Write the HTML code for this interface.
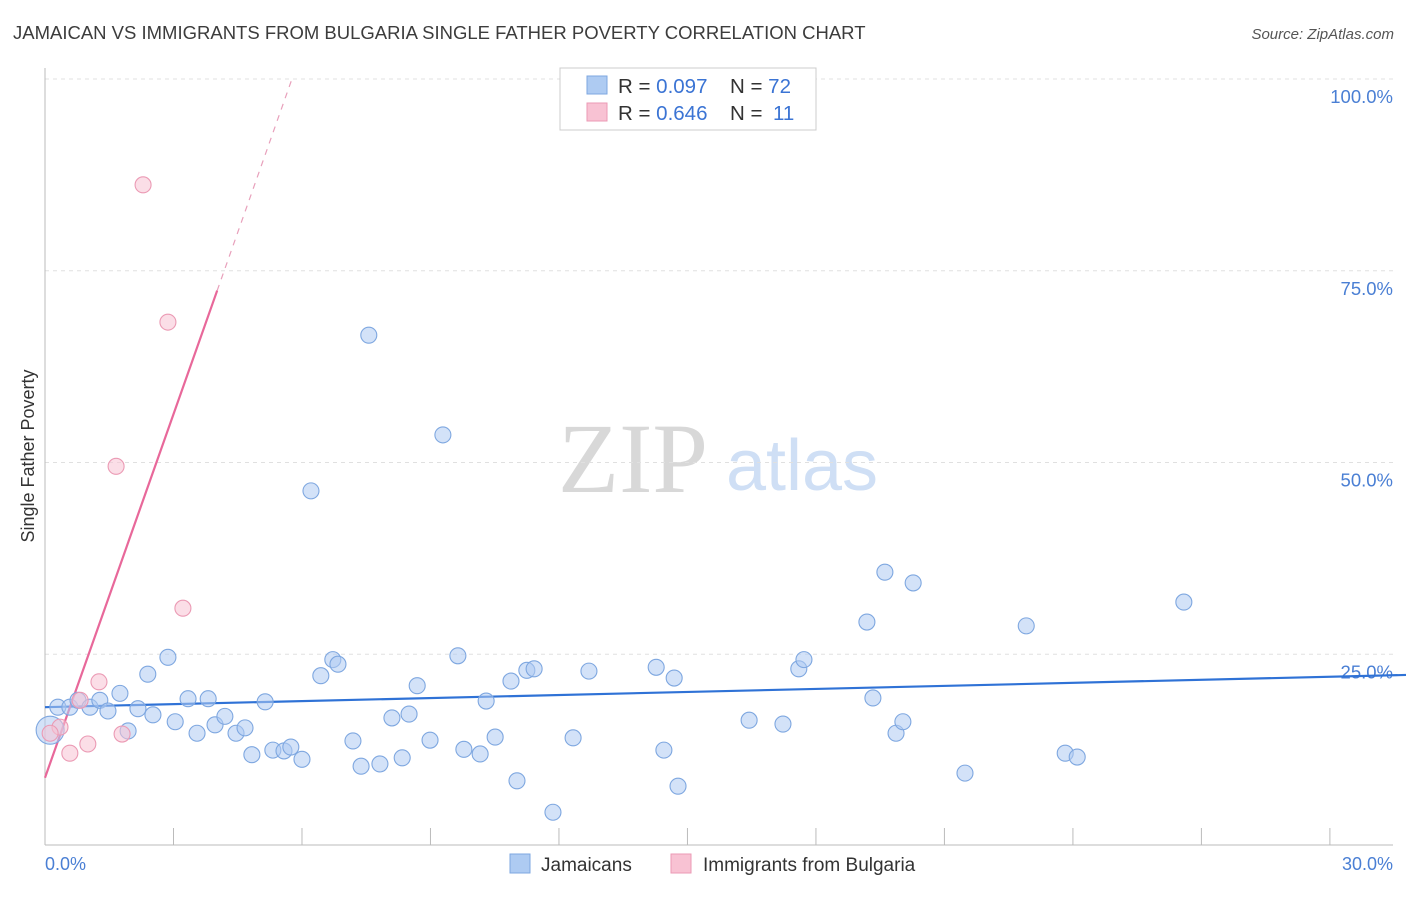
<!DOCTYPE html>
<html><head><meta charset="utf-8"><style>
body{margin:0;background:#fff;font-family:"Liberation Sans",sans-serif;}
svg text{font-family:"Liberation Sans",sans-serif;}
</style></head><body>
<svg id="chart" width="1406" height="892" viewBox="0 0 1406 892" xmlns="http://www.w3.org/2000/svg">
<text x="13" y="39" font-size="18.5" fill="#3c3c3c">JAMAICAN VS IMMIGRANTS FROM BULGARIA SINGLE FATHER POVERTY CORRELATION CHART</text>
<text x="1394" y="39" font-size="15" fill="#555" text-anchor="end" font-style="italic">Source: ZipAtlas.com</text>
<g>
<text x="633" y="492" font-size="100" fill="#d8d8d8" text-anchor="middle" style="font-family:'Liberation Serif',serif">ZIP</text>
<text x="802" y="490" font-size="72" fill="#cfdff5" text-anchor="middle">atlas</text>
</g>
<g id="grid"></g>
<g id="axes"></g>
<g id="lines"></g>
<g id="pts"></g>
<text transform="translate(34,456) rotate(-90)" font-size="18" fill="#333" text-anchor="middle">Single Father Poverty</text>
<text x="45" y="870" font-size="18" fill="#4a7fd4">0.0%</text>
<text x="1393" y="870" font-size="18" fill="#4a7fd4" text-anchor="end">30.0%</text>
<g>
<rect x="560" y="68" width="256" height="62" fill="#fff" stroke="#ccc"/>
<rect x="587" y="76" width="20" height="18" fill="#aecbf2" stroke="#7ea7e0"/>
<rect x="587" y="103" width="20" height="18" fill="#f8c2d3" stroke="#eb9ab4"/>
<text x="618" y="93" font-size="20.5" fill="#333">R = <tspan fill="#3b74d4">0.097</tspan><tspan x="730">N = </tspan><tspan fill="#3b74d4">72</tspan></text>
<text x="618" y="120" font-size="20.5" fill="#333">R = <tspan fill="#3b74d4">0.646</tspan><tspan x="730">N = </tspan><tspan fill="#3b74d4" x="773">11</tspan></text>
</g>
<g>
<rect x="510" y="854" width="20" height="19" fill="#aecbf2" stroke="#7ea7e0"/>
<text x="541" y="871" font-size="19" fill="#333">Jamaicans</text>
<rect x="671" y="854" width="20" height="19" fill="#f8c2d3" stroke="#eb9ab4"/>
<text x="703" y="871" font-size="19" fill="#333">Immigrants from Bulgaria</text>
</g>
</svg>
<script>
const blueX=[0.30,0.58,0.77,1.05,1.28,1.47,1.75,1.94,2.17,2.40,2.52,2.87,3.04,3.34,3.55,3.81,3.97,4.20,4.46,4.67,4.83,5.14,5.32,5.58,5.74,6.00,6.21,6.44,6.72,6.84,7.19,7.38,7.56,7.82,8.10,8.34,8.50,8.69,8.99,9.29,9.64,9.78,10.16,10.30,10.51,10.88,11.02,11.25,11.42,11.86,12.33,12.70,14.27,14.45,14.69,14.78,16.44,17.23,17.60,17.72,19.19,19.33,19.61,19.87,20.03,20.27,21.48,22.91,23.82,24.10,26.59,0.12];
const blueY=[18.1,18.1,19.0,18.1,19.0,17.6,19.9,15.0,17.9,22.4,17.1,24.6,16.2,19.2,14.7,19.2,15.8,16.9,14.7,15.4,11.9,18.8,12.5,12.4,12.9,11.3,46.3,22.2,24.3,23.7,13.7,10.4,66.6,10.7,16.7,11.5,17.2,20.9,13.8,53.6,24.8,12.6,12.0,18.9,14.2,21.5,8.5,22.9,23.1,4.4,14.1,22.8,23.3,12.5,21.9,7.8,16.4,15.9,23.1,24.3,29.2,19.3,35.7,14.7,16.2,34.3,9.5,28.7,12.1,11.6,31.8,15.1];
const pinkX=[2.29,2.87,1.66,3.22,1.26,1.00,0.58,1.80,0.82,0.35,0.12];
const pinkY=[86.2,68.3,49.5,31.0,21.4,13.3,12.1,14.6,19.0,15.5,14.7];
const yTicks=[25,50,75,100];
const yTickLabels=["25.0%","50.0%","75.0%","100.0%"];
const xTicks=[0,3,6,9,12,15,18,21,24,27,30];
const blueLine=[18.1,22.3];
const pinkLine=[8.9,15.8];
const NS="http://www.w3.org/2000/svg";
const sx=v=>45+v*42.83, sy=v=>846-v*7.67;
function mk(t,a,p){const e=document.createElementNS(NS,t);for(const k in a)e.setAttribute(k,a[k]);p.appendChild(e);return e;}
const grid=document.getElementById('grid'),axes=document.getElementById('axes'),lines=document.getElementById('lines'),pts=document.getElementById('pts');
yTicks.forEach((v,i)=>{
const g=mk('line',{x1:45,x2:1393,y1:sy(v),y2:sy(v),stroke:'#e0e0e0','stroke-dasharray':'4,4'},grid);


const t=mk('text',{x:1393,y:sy(v)+24,'font-size':18.5,fill:'#4a7fd4','text-anchor':'end'},axes);
t.textContent=yTickLabels[i];


});
const ax=mk('line',{x1:45,x2:1393,y1:845,y2:845,stroke:'#bbb'},axes);


const ay=mk('line',{x1:45,x2:45,y1:68,y2:845,stroke:'#bbb'},axes);


xTicks.forEach(v=>{
const t=mk('line',{x1:sx(v),x2:sx(v),y1:828,y2:845,stroke:'#bbb'},axes);


});
const bl=mk('line',{x1:sx(0),y1:sy(blueLine[0]),x2:1406,y2:sy(blueLine[1]),stroke:'#2f72d6','stroke-width':2.2},lines);


const xs=4.02, xe=(100-pinkLine[0])/pinkLine[1];
const pl=mk('line',{x1:sx(0),y1:sy(pinkLine[0]),x2:sx(xs),y2:sy(pinkLine[0]+pinkLine[1]*xs),stroke:'#e8689a','stroke-width':2.2},lines);


const pd=mk('line',{x1:sx(xs),y1:sy(pinkLine[0]+pinkLine[1]*xs),x2:sx(xe),y2:sy(100),stroke:'#e8a0bb','stroke-width':1.2,'stroke-dasharray':'6,6'},lines);


blueX.forEach((x,i)=>{
const big=i===blueX.length-1;
const c=mk('circle',{cx:sx(x),cy:sy(blueY[i]),r:big?14:8,fill:'#aecbf2','fill-opacity':0.55,stroke:'#7ea7e0','stroke-width':1.1},pts);


});
pinkX.forEach((x,i)=>{
const c=mk('circle',{cx:sx(x),cy:sy(pinkY[i]),r:8,fill:'#f8c2d3','fill-opacity':0.55,stroke:'#eb9ab4','stroke-width':1.1},pts);


});
</script>
</body></html>
